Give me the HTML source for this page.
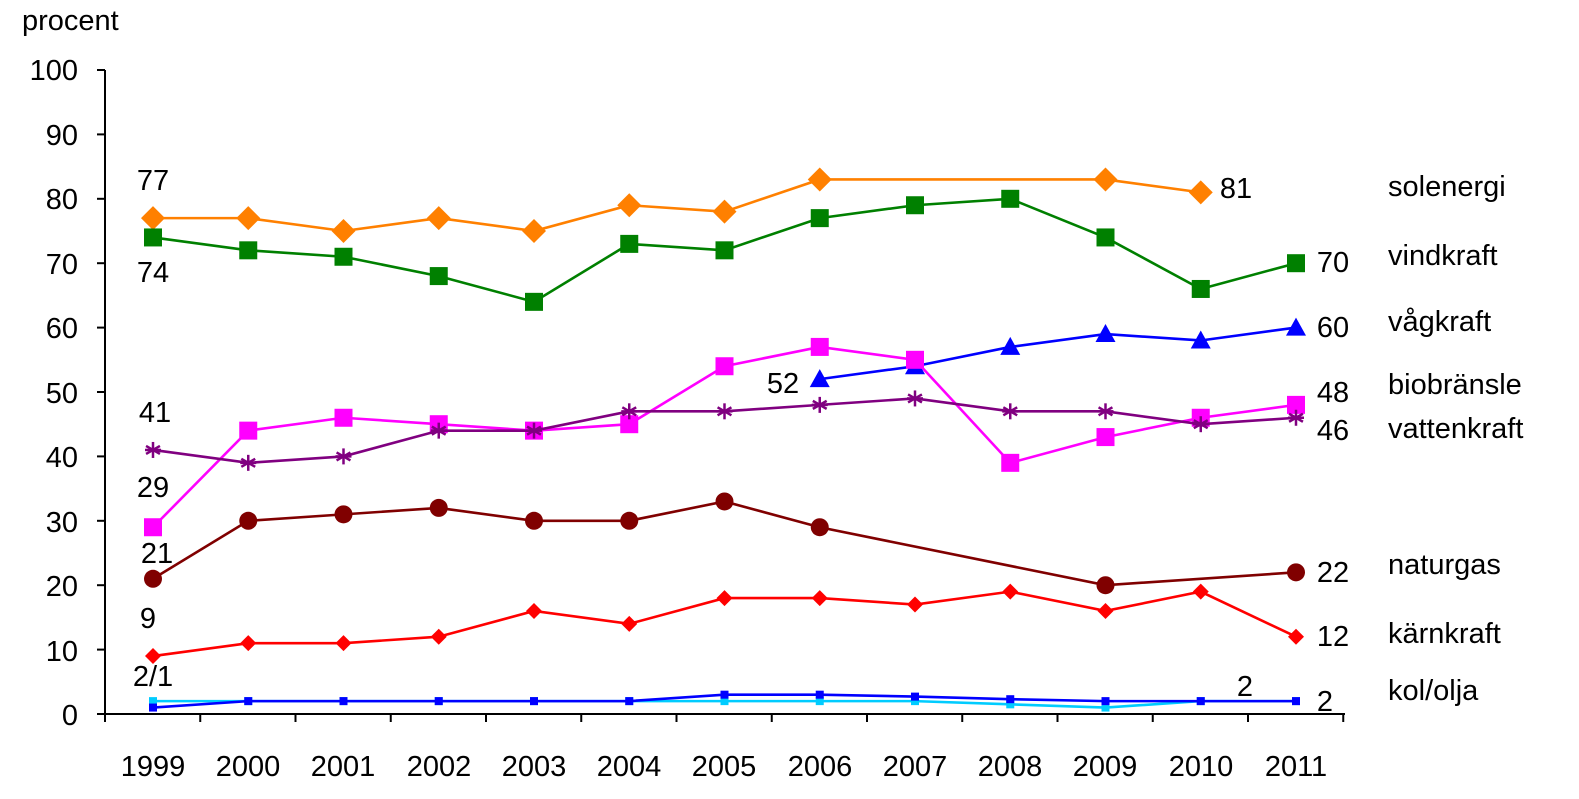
<!DOCTYPE html>
<html><head><meta charset="utf-8"><style>
body{margin:0;background:#fff;}
svg text{font-family:"Liberation Sans",Arial,sans-serif;font-size:29px;fill:#000;}
</style></head><body>
<svg id="s" width="1579" height="794" viewBox="0 0 1579 794" xmlns="http://www.w3.org/2000/svg">
<text x="22" y="30">procent</text>
<g text-anchor="end">
<text x="78" y="80">100</text><text x="78" y="145">90</text><text x="78" y="209">80</text>
<text x="78" y="274">70</text><text x="78" y="338">60</text><text x="78" y="403">50</text>
<text x="78" y="467">40</text><text x="78" y="532">30</text><text x="78" y="596">20</text>
<text x="78" y="661">10</text><text x="78" y="725">0</text>
</g>
<g text-anchor="middle">
<text x="153" y="776">1999</text><text x="248" y="776">2000</text><text x="343" y="776">2001</text>
<text x="439" y="776">2002</text><text x="534" y="776">2003</text><text x="629" y="776">2004</text>
<text x="724" y="776">2005</text><text x="820" y="776">2006</text><text x="915" y="776">2007</text>
<text x="1010" y="776">2008</text><text x="1105" y="776">2009</text><text x="1201" y="776">2010</text>
<text x="1296" y="776">2011</text>
<text x="153" y="190">77</text><text x="153" y="282">74</text><text x="155" y="422">41</text>
<text x="153" y="497">29</text><text x="157" y="563">21</text><text x="148" y="628">9</text>
<text x="153" y="686">2/1</text><text x="783" y="393">52</text><text x="1236" y="198">81</text>
<text x="1333" y="272">70</text><text x="1333" y="337">60</text><text x="1333" y="402">48</text>
<text x="1333" y="440">46</text><text x="1333" y="582">22</text><text x="1333" y="646">12</text>
<text x="1245" y="696">2</text><text x="1325" y="711">2</text>
</g>
<text x="1388" y="196">solenergi</text><text x="1388" y="265">vindkraft</text>
<text x="1388" y="331">vågkraft</text><text x="1388" y="394">biobränsle</text>
<text x="1388" y="438">vattenkraft</text><text x="1388" y="574">naturgas</text>
<text x="1388" y="643">kärnkraft</text><text x="1388" y="700">kol/olja</text>
<g id="ax" stroke="#000" stroke-width="2"></g>
<g id="d"></g>
</svg>
<script>
const NS="http://www.w3.org/2000/svg";
const X=i=>153+i*95.25, Y=v=>714-v*6.44;
const ax=document.getElementById('ax'), d=document.getElementById('d');
function el(p,t,a){const e=document.createElementNS(NS,t);for(const k in a)e.setAttribute(k,a[k]);p.appendChild(e);return e;}
el(ax,'line',{x1:105,y1:70,x2:105,y2:714});
el(ax,'line',{x1:105,y1:714,x2:1345,y2:714});
for(let v=0;v<=100;v+=10)el(ax,'line',{x1:97,y1:Y(v),x2:105,y2:Y(v)});
for(let k=0;k<=13;k++){const x=105+k*95.25;el(ax,'line',{x1:x,y1:714,x2:x,y2:722});}
const S=[
["#FF8000","dia",12,[[0,77],[1,77],[2,75],[3,77],[4,75],[5,79],[6,78],[7,83],[10,83],[11,81]]],
["#008000","sq",9,[74,72,71,68,64,73,72,77,79,80,74,66,70].map((v,i)=>[i,v])],
["#0000FF","tri",10,[[7,52],[8,54],[9,57],[10,59],[11,58],[12,60]]],
["#FF00FF","sq",9,[29,44,46,45,44,45,54,57,55,39,43,46,48].map((v,i)=>[i,v])],
["#800080","ast",8,[41,39,40,44,44,47,47,48,49,47,47,45,46].map((v,i)=>[i,v])],
["#800000","circ",9,[[0,21],[1,30],[2,31],[3,32],[4,30],[5,30],[6,33],[7,29],[10,20],[12,22]]],
["#FF0000","dia",8,[9,11,11,12,16,14,18,18,17,19,16,19,12].map((v,i)=>[i,v])],
["#00CCFF","sq",4,[2,2,2,2,2,2,2,2,2,1.5,1,2,2].map((v,i)=>[i,v])],
["#0000FF","sq",4,[1,2,2,2,2,2,3,3,2.7,2.3,2,2,2].map((v,i)=>[i,v])]
];
for(const [c,m,r,pts] of S){
 el(d,'polyline',{points:pts.map(p=>X(p[0])+","+Y(p[1])).join(" "),fill:"none",stroke:c,"stroke-width":2.6});
 for(const [i,v] of pts){const x=X(i),y=Y(v);
  if(m=="dia")el(d,'polygon',{points:`${x},${y-r} ${x+r},${y} ${x},${y+r} ${x-r},${y}`,fill:c});
  else if(m=="sq")el(d,'rect',{x:x-r,y:y-r,width:2*r,height:2*r,fill:c});
  else if(m=="tri")el(d,'polygon',{points:`${x},${y-r} ${x+r},${y+r*0.8} ${x-r},${y+r*0.8}`,fill:c});
  else if(m=="circ")el(d,'circle',{cx:x,cy:y,r:r,fill:c});
  else{for(const a of [0,60,120]){const t=a*Math.PI/180;el(d,'line',{x1:x-r*Math.sin(t),y1:y-r*Math.cos(t),x2:x+r*Math.sin(t),y2:y+r*Math.cos(t),stroke:c,"stroke-width":2.5});}
   el(d,'line',{x1:x-r,y1:y,x2:x+r,y2:y,stroke:c,"stroke-width":2.5});}
 }
}
</script>
</body></html>
